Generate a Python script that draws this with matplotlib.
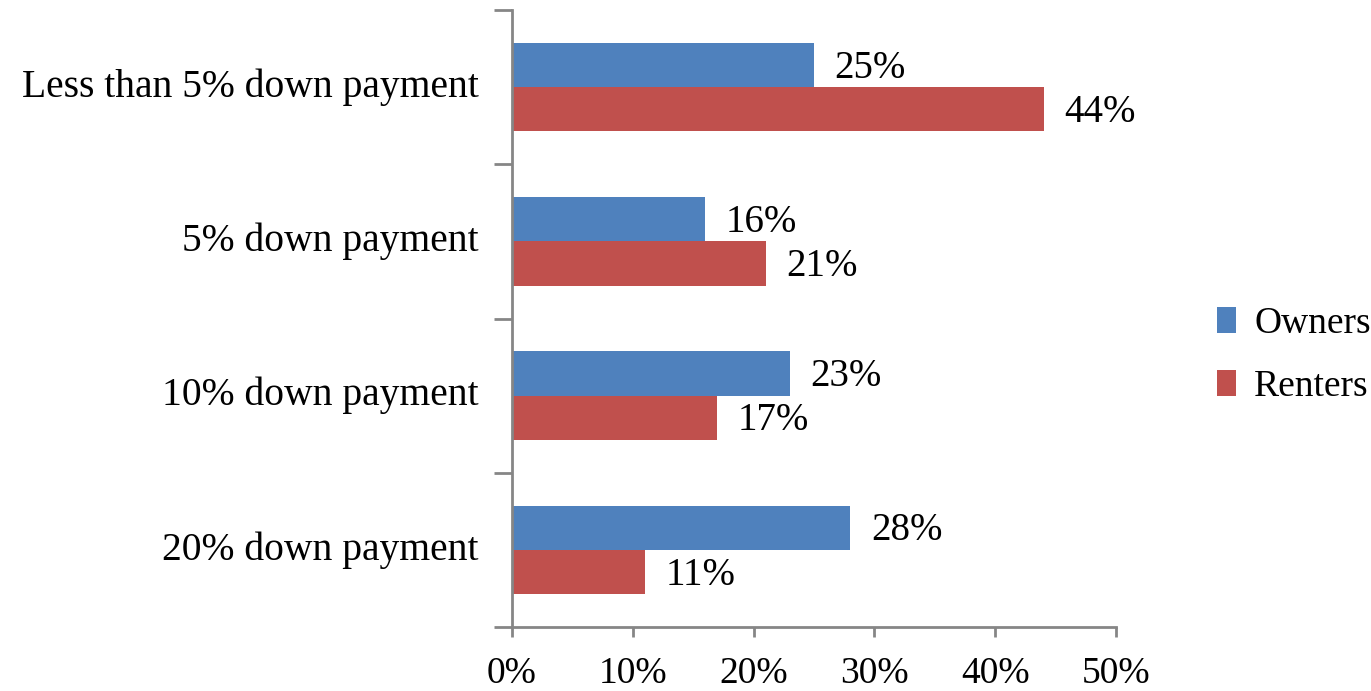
import matplotlib.pyplot as plt
import numpy as np

categories = ['Less than 5% down payment', '5% down payment',
              '10% down payment', '20% down payment']
owners = [25, 16, 23, 28]
renters = [44, 21, 17, 11]
xticks = [0, 10, 20, 30, 40, 50]

plt.rcParams['font.family'] = ['Liberation Serif', 'DejaVu Serif']
fs = 27

fig = plt.figure(figsize=(13.71, 6.91), dpi=100)
ax = fig.add_axes([512 / 1371, 64 / 691, 604 / 1371, 617 / 691])

y = np.arange(len(categories))
h = 0.2875
b1 = ax.barh(y - h / 2, owners, height=h, color='#4F81BD', label='Owners')
b2 = ax.barh(y + h / 2, renters, height=h, color='#C0504D', label='Renters')

for bars, vals in [(b1, owners), (b2, renters)]:
    for bar, v in zip(bars, vals):
        ax.text(v + 1.7, bar.get_y() + bar.get_height() / 2 + 0.02, f'{v}%',
                va='center', ha='left', fontsize=28)

ax.set_xlim(0, 50)
ax.set_ylim(len(categories) - 0.5, -0.5)
ax.set_xticks(xticks)
ax.set_xticklabels([f'{t}%' for t in xticks], fontsize=fs)
ax.tick_params(axis='x', length=7, width=2, color='#868686', pad=14)

# category labels sit between boundary ticks
ax.set_yticks(np.arange(len(categories) + 1) - 0.5)
ax.set_yticklabels([])
ax.tick_params(axis='y', length=13, width=2, color='#868686')
for yi, c in zip(y, categories):
    ax.text(-0.055, yi, c, transform=ax.get_yaxis_transform(), ha='right',
            va='center', fontsize=28.5)

for s in ['top', 'right']:
    ax.spines[s].set_visible(False)
for s in ['left', 'bottom']:
    ax.spines[s].set_color('#868686')
    ax.spines[s].set_linewidth(2)

ax.legend(loc='center left', bbox_to_anchor=(1.167, 0.44), frameon=False,
          fontsize=fs, handlelength=0.5, handleheight=0.7,
          handletextpad=0.5, labelspacing=0.75, borderpad=0,
          borderaxespad=0)

fig.savefig('out.png', dpi=100)
